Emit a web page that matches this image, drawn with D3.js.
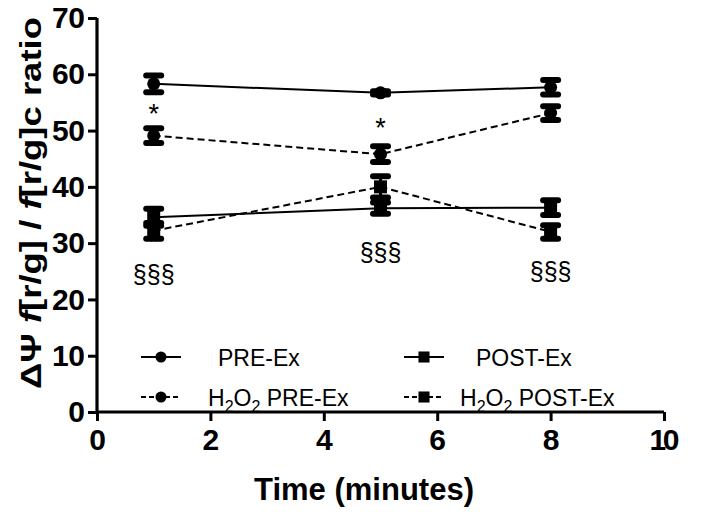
<!DOCTYPE html>
<html><head><meta charset="utf-8">
<script src="https://cdn.jsdelivr.net/npm/d3@7"></script>
<style>body{margin:0;background:#fff}svg{display:block}</style>
</head><body>
<svg id="c" width="709" height="512"></svg>
<script>
const times = [1, 5, 8];
const preEx = [58.3, 56.7, 57.7];
const preExErr = [1.5, 0.3, 1.3];
const h2o2PreEx = [49.1, 45.8, 53.1];
const h2o2PreExErr = [1.3, 1.4, 1.2];
const postEx = [34.6, 36.2, 36.3];
const postExErr = [1.5, 1.0, 1.3];
const h2o2PostEx = [32.2, 40.0, 32.0];
const h2o2PostExErr = [1.4, 1.9, 1.2];
const xTicks = [0, 2, 4, 6, 8, 10];
const yTicks = [0, 10, 20, 30, 40, 50, 60, 70];
const annX = [1, 5, 1, 1, 5, 8];
const annY = [53.0, 50.4, 30.2, 24.6, 28.4, 25.0];
const annText = ["*", "*", "*", "§§§", "§§§", "§§§"];

const series = [
  {name: "PRE-Ex", h2: false, v: preEx, e: preExErr, dash: null, shape: "circle"},
  {name: "H2O2 PRE-Ex", h2: true, v: h2o2PreEx, e: h2o2PreExErr, dash: "7,4", shape: "circle"},
  {name: "POST-Ex", h2: false, v: postEx, e: postExErr, dash: null, shape: "square"},
  {name: "H2O2 POST-Ex", h2: true, v: h2o2PostEx, e: h2o2PostExErr, dash: "7,4", shape: "square"}
];

const svg = d3.select("#c");
const x = d3.scaleLinear().domain([0, 10]).range([97, 664]);
const y = d3.scaleLinear().domain([0, 70]).range([412, 18]);
const F = "'Liberation Sans', Arial, sans-serif";

// axes
const gx = svg.append("g").attr("transform", `translate(0,${y(0)})`)
  .call(d3.axisBottom(x).tickValues(xTicks).tickSize(9).tickPadding(8).tickFormat(d3.format("d")));
const gy = svg.append("g").attr("transform", `translate(${x(0)},0)`)
  .call(d3.axisLeft(y).tickValues(yTicks).tickSize(9).tickPadding(3).tickFormat(d3.format("d")));
[gx, gy].forEach(g => {
  g.select(".domain").attr("stroke", "#000").attr("stroke-width", 3.2);
  g.selectAll(".tick line").attr("stroke", "#000").attr("stroke-width", 3);
  g.selectAll(".tick text").attr("fill", "#000").style("font-family", F)
    .style("font-size", "30px").style("font-weight", "bold");
});
gx.selectAll(".tick text").attr("transform", "scale(0.92,1)").attr("x", function(d){ return 0; });
gx.selectAll(".tick").each(function(d){
  d3.select(this).select("text").attr("transform", null).attr("textLength", d === 10 ? 30 : 16);
});
gy.selectAll(".tick text").attr("textLength", d => d === 0 ? 16 : 33);
gx.select(".domain").attr("d", `M${x(0)},0H${x(10)}`);
gy.select(".domain").attr("d", `M0,${y(0)}V${y(70)}`);

// axis titles
svg.append("text").attr("x", 364).attr("y", 500).attr("text-anchor", "middle")
  .style("font-family", F).style("font-size", "31px").style("font-weight", "bold")
  .attr("textLength", 220).attr("lengthAdjust", "spacingAndGlyphs")
  .text("Time (minutes)");
const yl = svg.append("text").attr("transform", `translate(41,203) rotate(-90)`)
  .attr("text-anchor", "middle").style("font-family", F).style("font-size", "30px").style("font-weight", "bold")
  .attr("textLength", 372).attr("lengthAdjust", "spacingAndGlyphs");
yl.append("tspan").text("ΔΨ ");
yl.append("tspan").attr("font-style", "italic").text("f");
yl.append("tspan").text("[r/g] / ");
yl.append("tspan").attr("font-style", "italic").text("f");
yl.append("tspan").text("[r/g]c ratio");

function marker(g, shape, cx, cy, s) {
  if (shape === "circle") g.append("circle").attr("cx", cx).attr("cy", cy).attr("r", 6.5 * s).attr("fill", "#000");
  else g.append("rect").attr("x", cx - 6.5 * s).attr("y", cy - 6.5 * s).attr("width", 13 * s).attr("height", 13 * s).attr("fill", "#000");
}

// lines, error bars, markers
series.forEach(s => {
  const line = d3.line().x((d, i) => x(times[i])).y(d => y(d));
  svg.append("path").attr("d", line(s.v)).attr("fill", "none").attr("stroke", "#000")
    .attr("stroke-width", 2).attr("stroke-dasharray", s.dash);
  s.v.forEach((v, i) => {
    const cx = x(times[i]);
    const g = svg.append("g");
    const lo = y(v - s.e[i]), hi = y(v + s.e[i]);
    g.append("line").attr("x1", cx).attr("x2", cx).attr("y1", lo).attr("y2", hi).attr("stroke", "#000").attr("stroke-width", 3);
    [lo, hi].forEach(yy => g.append("line").attr("x1", cx - 7.5).attr("x2", cx + 7.5).attr("y1", yy).attr("y2", yy)
      .attr("stroke", "#000").attr("stroke-width", 6).attr("stroke-linecap", "round"));
    marker(g, s.shape, cx, y(v), 1);
  });
});

// annotations
annText.forEach((t, i) => {
  svg.append("text").attr("x", x(annX[i])).attr("y", y(annY[i])).attr("text-anchor", "middle")
    .attr("dominant-baseline", "central").style("font-family", F)
    .style("font-size", t === "*" ? "27px" : "25px").text(t);
});

// legend
const legRows = [357, 397];
const legCols = [{lx0: 141, lx1: 181, tx: 218, txh: 208}, {lx0: 404, lx1: 444, tx: 476, txh: 460}];
series.forEach((s, i) => {
  const col = legCols[i < 2 ? 0 : 1];
  const ry = legRows[i % 2];
  svg.append("line").attr("x1", col.lx0).attr("x2", col.lx1).attr("y1", ry).attr("y2", ry)
    .attr("stroke", "#000").attr("stroke-width", 2).attr("stroke-dasharray", s.dash ? "5,3" : null);
  const g = svg.append("g");
  marker(g, s.shape, (col.lx0 + col.lx1) / 2, ry, 0.85);
  const t = svg.append("text").attr("x", s.h2 ? col.txh : col.tx).attr("y", ry + 9)
    .style("font-family", F).style("font-size", "23px");
  if (s.h2) {
    t.append("tspan").text("H");
    t.append("tspan").attr("dy", 6).style("font-size", "16px").text("2");
    t.append("tspan").attr("dy", -6).text("O");
    t.append("tspan").attr("dy", 6).style("font-size", "16px").text("2");
    t.append("tspan").attr("dy", -6).text(" " + s.name.replace("H2O2 ", ""));
  } else t.text(s.name);
});
</script>
</body></html>
